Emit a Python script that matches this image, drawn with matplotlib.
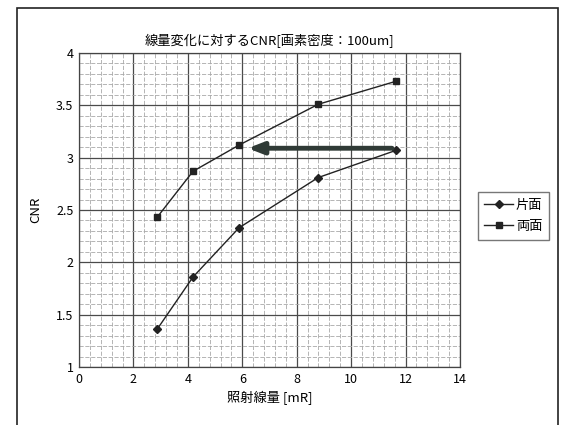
import matplotlib
matplotlib.use("Agg")
import matplotlib.pyplot as plt
from matplotlib.patches import Rectangle
from matplotlib.ticker import MultipleLocator

plt.rcParams["font.family"] = ["Noto Sans CJK JP", "DejaVu Sans"]

# data
dose = [2.87, 4.19, 5.88, 8.79, 11.65]
cnr_single = [1.36, 1.86, 2.33, 2.81, 3.07]
cnr_double = [2.43, 2.87, 3.12, 3.51, 3.73]
labels = ["片面", "両面"]
arrow_from = (11.5, 3.09)
arrow_to = (6.2, 3.09)

fig = plt.figure(figsize=(5.63, 4.25), dpi=100)
ax = fig.add_axes([79 / 563, 1 - 367 / 425, 381 / 563, 314 / 425])

ax.set_xlim(0, 14)
ax.set_ylim(1, 4)
ax.xaxis.set_major_locator(MultipleLocator(2))
ax.xaxis.set_minor_locator(MultipleLocator(0.4))
ax.yaxis.set_major_locator(MultipleLocator(0.5))
ax.yaxis.set_minor_locator(MultipleLocator(0.1))
ax.yaxis.set_major_formatter(lambda v, p: f"{v:g}")
ax.grid(which="major", color="#4a4a4a", linewidth=0.9)
ax.grid(which="minor", color="#a8a8a8", linewidth=0.6, linestyle=(0, (5, 2)))
ax.set_axisbelow(True)
ax.tick_params(which="both", length=0, labelsize=9, pad=4)
for s in ax.spines.values():
    s.set_color("#444444")
    s.set_linewidth(0.9)

ax.plot(dose, cnr_single, color="#222222", lw=1.0, marker="D", ms=4.2,
        label=labels[0])
ax.plot(dose, cnr_double, color="#222222", lw=1.0, marker="s", ms=4.5,
        label=labels[1])

ax.annotate("", xy=arrow_to, xytext=arrow_from,
            arrowprops=dict(arrowstyle="-|>,head_length=0.9,head_width=0.35",
                            color="#2f3a36", lw=3.5, shrinkA=0, shrinkB=0))

ax.set_title("線量変化に対するCNR[画素密度：100um]", fontsize=9.5, pad=6)
ax.set_xlabel("照射線量 [mR]", fontsize=9.5, labelpad=4)
ax.set_ylabel("CNR", fontsize=9.5, labelpad=10)

fig.legend(loc="center left", bbox_to_anchor=(471 / 563, 1 - 216 / 425),
           fontsize=9.5, frameon=True, fancybox=False, edgecolor="#555555",
           handlelength=2.2, handletextpad=0.2, borderpad=0.5,
           labelspacing=0.6)

fig.add_artist(Rectangle((17 / 563, -0.05), 541 / 563, 1.05 - 8 / 425,
                         transform=fig.transFigure, fill=False,
                         edgecolor="#222222", linewidth=1.2, clip_on=False))

fig.savefig("out.png", dpi=100)
